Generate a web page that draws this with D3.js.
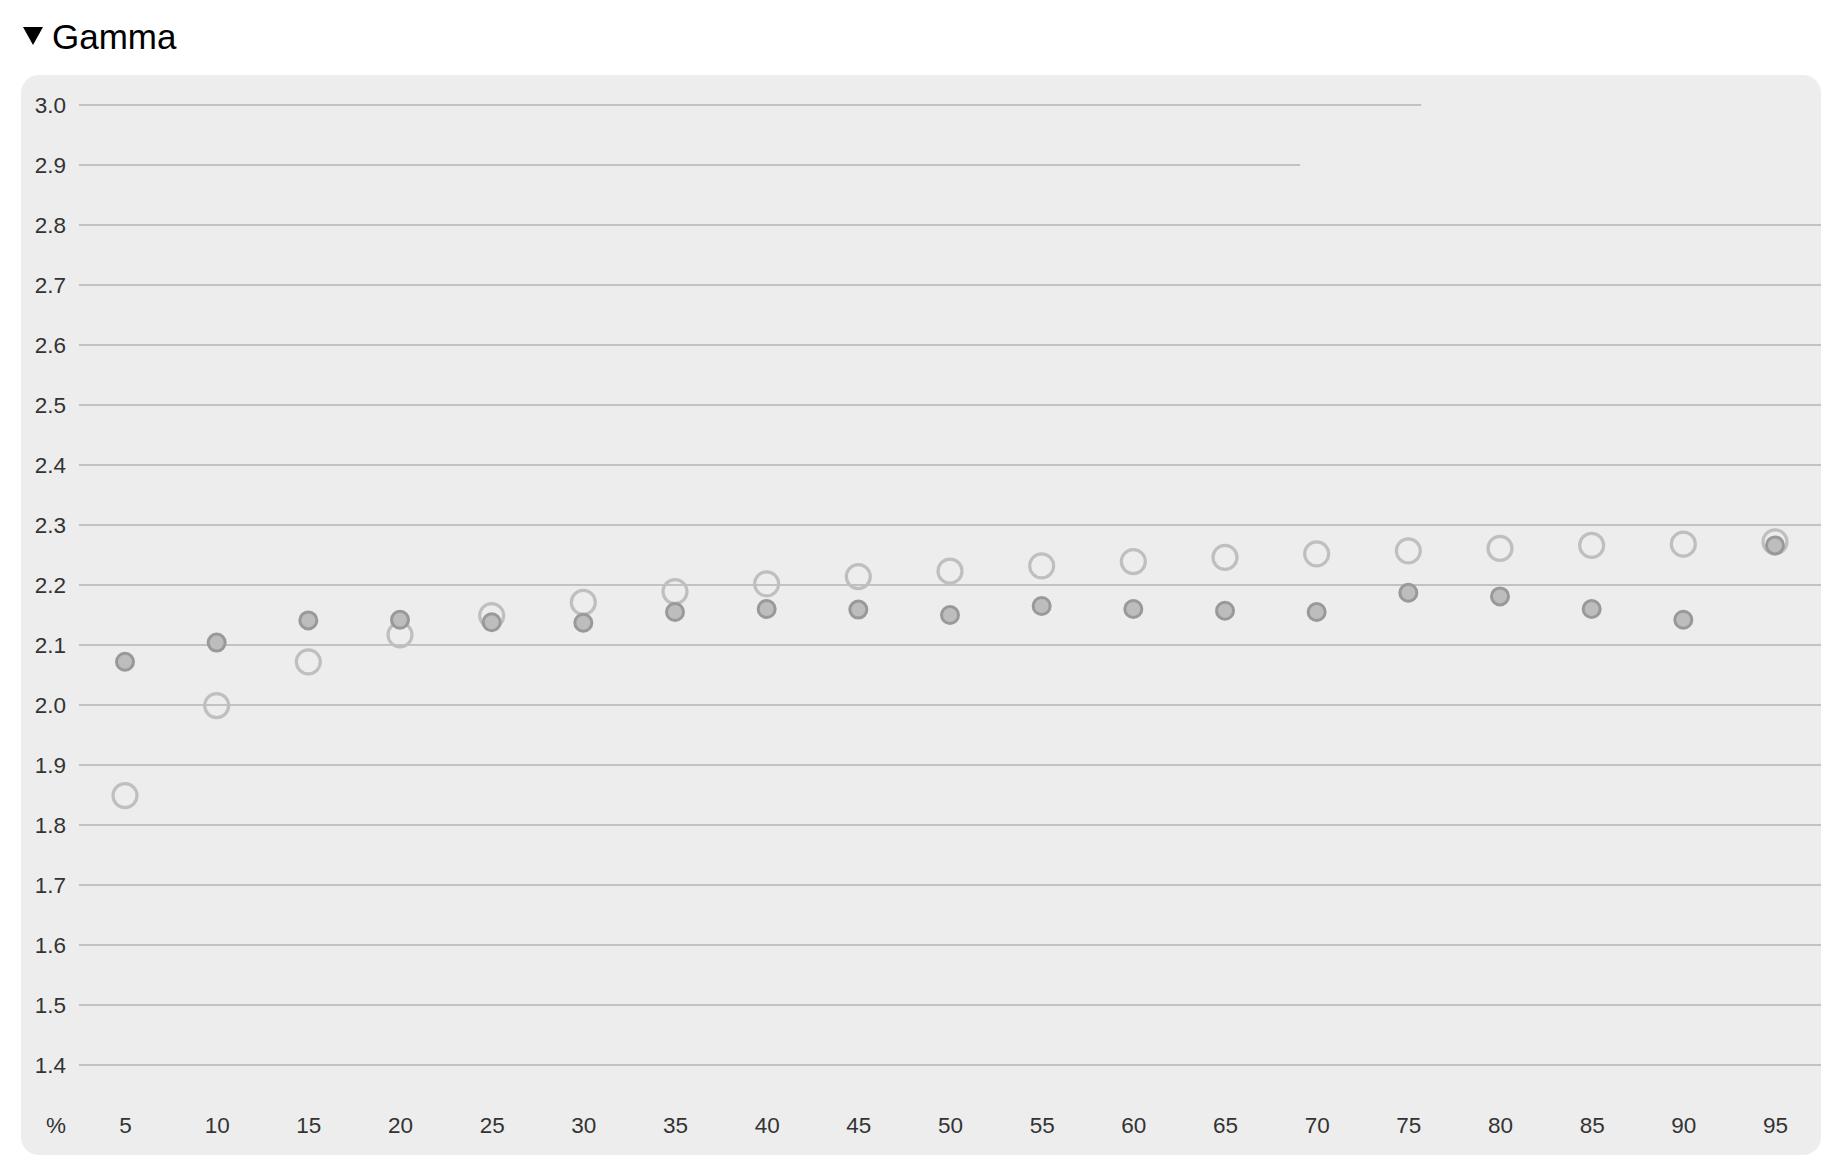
<!DOCTYPE html>
<html>
<head>
<meta charset="utf-8">
<script src="https://cdn.jsdelivr.net/npm/d3@7"></script>
<style>
  html, body { margin: 0; padding: 0; background: #ffffff; }
  svg { display: block; }
  text { font-family: "Liberation Sans", Arial, Helvetica, sans-serif; }
</style>
</head>
<body>
<svg id="chart" width="1838" height="1172"></svg>
<script>
// ---- data ----
const title = "Gamma";
const percents = [5, 10, 15, 20, 25, 30, 35, 40, 45, 50, 55, 60, 65, 70, 75, 80, 85, 90, 95];
const hollowSeries = [1.849, 1.999, 2.072, 2.117, 2.149, 2.171, 2.189, 2.202, 2.214, 2.223,
                      2.232, 2.239, 2.246, 2.252, 2.257, 2.261, 2.266, 2.268, 2.272];
const filledSeries = [2.072, 2.104, 2.141, 2.142, 2.138, 2.137, 2.155, 2.160, 2.159, 2.150,
                      2.165, 2.160, 2.157, 2.155, 2.187, 2.181, 2.160, 2.142, 2.266];
const yTicks = [1.4, 1.5, 1.6, 1.7, 1.8, 1.9, 2.0, 2.1, 2.2, 2.3, 2.4, 2.5, 2.6, 2.7, 2.8, 2.9, 3.0];
const xUnitLabel = "%";
// gridlines that stop short (value -> end position in percent units)
const shortGridValues = [3.0, 2.9];
const shortGridEnds = [75.7, 69.1];

// ---- layout ----
const svg = d3.select("#chart");
const panel = { x: 21, y: 75, w: 1800, h: 1080, r: 18 };
const gridLeft = 79;
const labelSize = 22.5;

const x = d3.scaleLinear().domain([5, 95]).range([125, 1775]);
const y = d3.scaleLinear().domain([1.3, 3.0]).range([1125, 105]);

// title
svg.append("path")
  .attr("d", "M23,27 L43,27 L33,45 Z")
  .attr("fill", "#000");
svg.append("text")
  .attr("x", 52).attr("y", 49)
  .attr("font-size", 35)
  .attr("fill", "#000")
  .text(title);

// panel
svg.append("rect")
  .attr("x", panel.x).attr("y", panel.y)
  .attr("width", panel.w).attr("height", panel.h)
  .attr("rx", panel.r).attr("ry", panel.r)
  .attr("fill", "#ededed");

// gridlines
const shortMap = new Map(shortGridValues.map((v, i) => [v, shortGridEnds[i]]));
svg.append("g").selectAll("line")
  .data(yTicks)
  .join("line")
  .attr("x1", gridLeft)
  .attr("x2", d => shortMap.has(d) ? x(shortMap.get(d)) : panel.x + panel.w)
  .attr("y1", d => y(d)).attr("y2", d => y(d))
  .attr("stroke", "#c2c2c2")
  .attr("stroke-width", 2);

// y axis labels
const yAxis = d3.axisLeft(y).tickValues(yTicks).tickFormat(d3.format(".1f")).tickSize(0).tickPadding(0);
const yg = svg.append("g").attr("transform", "translate(66,0)").call(yAxis);
yg.select(".domain").remove();
yg.selectAll("text")
  .attr("font-size", labelSize)
  .attr("font-family", "'Liberation Sans', Arial, sans-serif")
  .attr("fill", "#333");

// x axis labels
const xAxis = d3.axisBottom(x).tickValues(percents).tickFormat(d3.format("d")).tickSize(0).tickPadding(0);
const xg = svg.append("g").attr("transform", `translate(0,${y(1.3)})`).call(xAxis);
xg.select(".domain").remove();
xg.selectAll("text")
  .attr("dy", "0.35em")
  .attr("y", 0)
  .attr("font-size", labelSize)
  .attr("font-family", "'Liberation Sans', Arial, sans-serif")
  .attr("fill", "#333");

svg.append("text")
  .attr("x", 66).attr("y", y(1.3))
  .attr("dy", "0.35em")
  .attr("text-anchor", "end")
  .attr("font-size", labelSize)
  .attr("fill", "#333")
  .text(xUnitLabel);

// hollow series
svg.append("g").selectAll("circle")
  .data(percents.map((p, i) => ({ p, v: hollowSeries[i] })))
  .join("circle")
  .attr("cx", d => x(d.p))
  .attr("cy", d => y(d.v))
  .attr("r", 12)
  .attr("fill", "none")
  .attr("stroke", "#bfbfbf")
  .attr("stroke-width", 3.2);

// filled series
svg.append("g").selectAll("circle")
  .data(percents.map((p, i) => ({ p, v: filledSeries[i] })))
  .join("circle")
  .attr("cx", d => x(d.p))
  .attr("cy", d => y(d.v))
  .attr("r", 8.5)
  .attr("fill", "#bdbdbd")
  .attr("stroke", "#999999")
  .attr("stroke-width", 3);
</script>
</body>
</html>
